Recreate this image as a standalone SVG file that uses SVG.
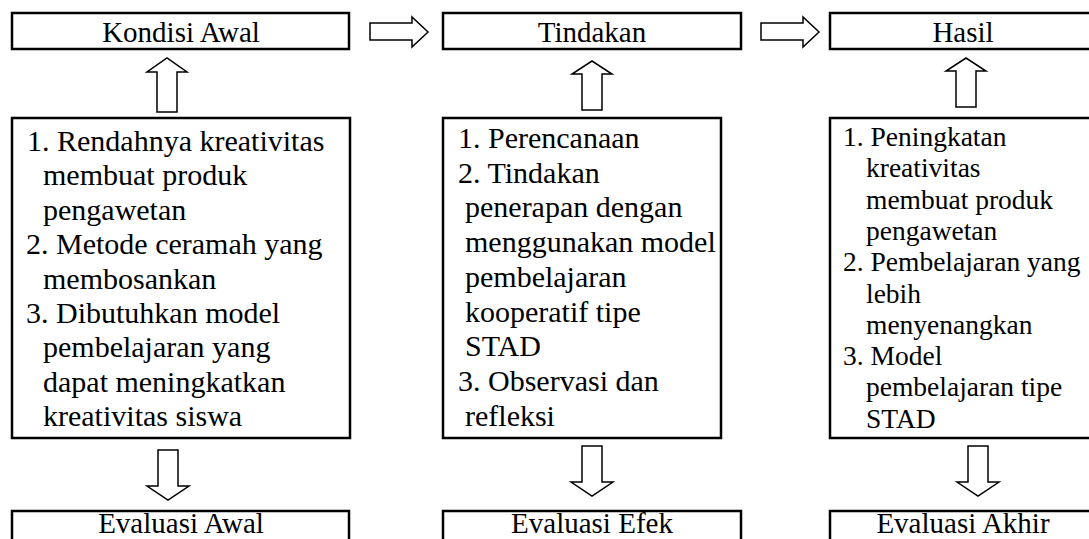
<svg xmlns="http://www.w3.org/2000/svg" width="1089" height="539" viewBox="0 0 1089 539">
<style>
.box{fill:#fff;stroke:#000;stroke-width:2.5}
.arr{fill:#fff;stroke:#000;stroke-width:1.5;stroke-linejoin:miter}
.t{font-family:"Liberation Serif","Times New Roman",serif;font-size:29px;fill:#000}
.c{text-anchor:middle}
.l{font-family:"Liberation Serif","Times New Roman",serif;font-size:30px;fill:#000}
.r{font-family:"Liberation Serif","Times New Roman",serif;font-size:27.5px;fill:#000}
</style>
<rect width="1089" height="539" fill="#fff"/>
<g id="kondisi-awal"><rect class="box" x="12" y="13" width="337" height="36"/><text class="t c" x="181" y="42">Kondisi Awal</text></g>
<g id="tindakan"><rect class="box" x="443" y="13" width="298" height="36"/><text class="t c" x="592" y="42">Tindakan</text></g>
<g id="hasil"><rect class="box" x="830" y="13" width="270" height="36"/><text class="t c" x="963" y="42">Hasil</text></g>
<g id="kondisi-list"><rect class="box" x="12" y="118" width="338" height="320"/>
<text class="l" x="27" y="151">1. Rendahnya kreativitas</text>
<text class="l" x="43" y="185.4">membuat produk</text>
<text class="l" x="43" y="219.8">pengawetan</text>
<text class="l" x="26" y="254.2">2. Metode ceramah yang</text>
<text class="l" x="43" y="288.6">membosankan</text>
<text class="l" x="26" y="323">3. Dibutuhkan model</text>
<text class="l" x="43" y="357.4">pembelajaran yang</text>
<text class="l" x="43" y="391.8">dapat meningkatkan</text>
<text class="l" x="43" y="426.2">kreativitas siswa</text>
</g>
<g id="tindakan-list"><rect class="box" x="443" y="118" width="278" height="320"/>
<text class="l" x="458" y="148">1. Perencanaan</text>
<text class="l" x="458" y="182.7">2. Tindakan</text>
<text class="l" x="465" y="217.4">penerapan dengan</text>
<text class="l" x="465" y="252.1">menggunakan model</text>
<text class="l" x="465" y="286.8">pembelajaran</text>
<text class="l" x="465" y="321.5">kooperatif tipe</text>
<text class="l" x="465" y="356.2">STAD</text>
<text class="l" x="458" y="390.9">3. Observasi dan</text>
<text class="l" x="465" y="425.6">refleksi</text>
</g>
<g id="hasil-list"><rect class="box" x="830" y="118" width="270" height="320"/>
<text class="r" x="843" y="146">1. Peningkatan</text>
<text class="r" x="866" y="177.3">kreativitas</text>
<text class="r" x="866" y="208.6">membuat produk</text>
<text class="r" x="866" y="239.9">pengawetan</text>
<text class="r" x="843" y="271.2">2. Pembelajaran yang</text>
<text class="r" x="866" y="302.5">lebih</text>
<text class="r" x="866" y="333.8">menyenangkan</text>
<text class="r" x="843" y="365.1">3. Model</text>
<text class="r" x="866" y="396.4">pembelajaran tipe</text>
<text class="r" x="866" y="427.7">STAD</text>
</g>
<g id="evaluasi-awal"><rect class="box" x="12" y="511" width="337" height="40"/><text class="t c" x="181" y="533">Evaluasi Awal</text></g>
<g id="evaluasi-efek"><rect class="box" x="443" y="511" width="298" height="40"/><text class="t c" x="592" y="533">Evaluasi Efek</text></g>
<g id="evaluasi-akhir"><rect class="box" x="830" y="511" width="270" height="40"/><text class="t c" x="963" y="533">Evaluasi Akhir</text></g>
<g id="connectors">
<path class="arr" d="M370,23 H412 V17 L428,32 L412,47 V40 H370 Z"/>
<path class="arr" d="M761,23 H803 V17 L819,32 L803,47 V40 H761 Z"/>
<path class="arr" d="M157,112 V72 H147 L167,58 L187,72 H177 V112 Z"/>
<path class="arr" d="M582,110 V74 H572 L592,61 L612,74 H602 V110 Z"/>
<path class="arr" d="M956,107 V71 H946 L966,58 L986,71 H976 V107 Z"/>
<path class="arr" d="M158,450 V486 H147 L168,500 L189,486 H178 V450 Z"/>
<path class="arr" d="M582,446 V482 H571 L592,496 L613,482 H602 V446 Z"/>
<path class="arr" d="M968,446 V482 H957 L978,496 L999,482 H988 V446 Z"/>
</g>
</svg>
